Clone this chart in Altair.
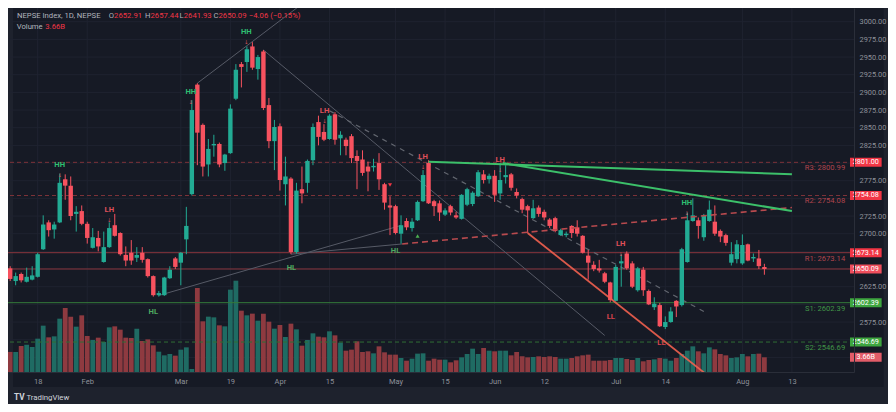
import altair as alt
import pandas as pd

# ---------------- data ----------------
opens = [2651, 2633, 2643, 2632, 2635, 2639, 2678, 2716, 2706, 2716,
         2777, 2768, 2728, 2732, 2714, 2680, 2694, 2660, 2681, 2712,
         2701, 2670, 2673, 2666, 2673, 2664, 2640, 2613, 2613, 2637,
         2665, 2659, 2692, 2756, 2911, 2854, 2798, 2825, 2827, 2800,
         2814, 2891, 2940, 2943, 2965, 2933, 2958, 2882, 2831, 2852,
         2770, 2778, 2674, 2763, 2772, 2804, 2858, 2844, 2834, 2869,
         2835, 2833, 2838, 2810, 2805, 2795, 2794, 2800, 2770, 2740,
         2739, 2700, 2718, 2708, 2719, 2746, 2800, 2746, 2743, 2727,
         2739, 2726, 2721, 2741, 2742, 2753, 2784, 2777, 2782, 2757,
         2780, 2784, 2759, 2749, 2739, 2722, 2737, 2731, 2720, 2722,
         2698, 2698, 2711, 2709, 2697, 2669, 2656, 2651, 2644, 2631,
         2605, 2658, 2672, 2658, 2620, 2649, 2619, 2596, 2599, 2568,
         2575, 2605, 2599, 2660, 2718, 2719, 2695, 2718, 2717, 2704,
         2698, 2659, 2664, 2658, 2685, 2665, 2665, 2652.91]
highs = [2654, 2645, 2645, 2652, 2654, 2673, 2726, 2719, 2717, 2785,
         2784, 2781, 2739, 2740, 2717, 2708, 2704, 2703, 2716, 2728,
         2702, 2682, 2691, 2681, 2681, 2665, 2641, 2619, 2639, 2654,
         2667, 2674, 2738, 2889, 2913, 2856, 2834, 2840, 2829, 2813,
         2883, 2940, 2943, 2965, 2971, 2953, 2960, 2892, 2861, 2856,
         2809, 2780, 2772, 2795, 2805, 2856, 2867, 2855, 2869, 2872,
         2845, 2836, 2841, 2818, 2818, 2802, 2806, 2814, 2772, 2753,
         2741, 2726, 2722, 2722, 2747, 2790, 2804, 2748, 2747, 2736,
         2741, 2731, 2756, 2765, 2760, 2790, 2790, 2785, 2790, 2800,
         2797, 2786, 2764, 2751, 2741, 2748, 2740, 2734, 2722, 2724,
         2707, 2703, 2712, 2719, 2698, 2677, 2661, 2663, 2646, 2632,
         2656, 2671, 2675, 2661, 2653, 2653, 2621, 2610, 2602, 2583,
         2596, 2606, 2680, 2730, 2750, 2723, 2728, 2747, 2740, 2706,
         2700, 2688, 2691, 2699, 2686, 2672, 2677, 2657.44]
lows = [2633, 2627, 2631, 2631, 2634, 2638, 2677, 2696, 2693, 2715,
        2748, 2719, 2703, 2712, 2686, 2679, 2675, 2659, 2680, 2696,
        2669, 2654, 2656, 2660, 2659, 2638, 2611, 2611, 2612, 2636,
        2650, 2627, 2671, 2754, 2797, 2781, 2781, 2809, 2794, 2789,
        2813, 2889, 2907, 2929, 2932, 2918, 2875, 2821, 2790, 2761,
        2740, 2671, 2672, 2743, 2758, 2797, 2825, 2831, 2833, 2826,
        2811, 2811, 2800, 2763, 2782, 2760, 2788, 2762, 2734, 2698,
        2699, 2686, 2705, 2703, 2718, 2745, 2742, 2725, 2718, 2725,
        2726, 2721, 2720, 2739, 2739, 2752, 2771, 2771, 2745, 2748,
        2771, 2761, 2750, 2729, 2701, 2721, 2724, 2719, 2708, 2702,
        2697, 2695, 2694, 2696, 2672, 2635, 2647, 2645, 2630, 2603,
        2604, 2625, 2649, 2623, 2618, 2612, 2599, 2592, 2568, 2565,
        2574, 2582, 2597, 2659, 2717, 2693, 2690, 2717, 2697, 2688,
        2683, 2655, 2658, 2656, 2661, 2660, 2650, 2641.93]
closes = [2636, 2640, 2634, 2639, 2641, 2671, 2713, 2705, 2713, 2772,
          2768, 2725, 2731, 2714, 2694, 2695, 2682, 2681, 2708, 2697,
          2671, 2662, 2662, 2670, 2663, 2640, 2613, 2616, 2638, 2649,
          2653, 2673, 2711, 2875, 2843, 2795, 2820, 2827, 2798, 2812,
          2877, 2932, 2936, 2961, 2935, 2950, 2878, 2831, 2851, 2776,
          2781, 2674, 2761, 2757, 2803, 2851, 2837, 2833, 2867, 2833,
          2840, 2824, 2807, 2803, 2786, 2788, 2796, 2777, 2744, 2737,
          2701, 2712, 2709, 2717, 2745, 2783, 2743, 2739, 2730, 2733,
          2730, 2723, 2755, 2763, 2758, 2787, 2776, 2782, 2755, 2776,
          2783, 2765, 2754, 2734, 2733, 2736, 2728, 2723, 2711, 2704,
          2705, 2700, 2701, 2700, 2673, 2659, 2650, 2648, 2632, 2606,
          2653, 2661, 2651, 2625, 2651, 2620, 2600, 2601, 2569, 2575,
          2590, 2597, 2678, 2719, 2726, 2711, 2726, 2734, 2700, 2696,
          2687, 2671, 2685, 2684, 2662, 2667, 2654.15, 2650.09]
volumes = [5.0, 4.98, 6.47, 6.81, 6.23, 8.30, 11.54, 8.63, 8.88, 13.28,
           15.94, 13.78, 11.29, 14.11, 8.96, 7.97, 8.55, 7.47, 11.12, 11.37,
           10.54, 8.55, 8.47, 10.79, 7.72, 8.13, 6.64, 5.06, 4.15, 4.48,
           4.07, 5.56, 6.14, 0.75, 20.92, 12.62, 13.78, 13.61, 11.62, 11.37,
           20.50, 22.74, 15.27, 14.11, 14.53, 12.78, 14.53, 12.53, 10.79, 11.70,
           8.72, 12.04, 10.62, 6.56, 7.97, 9.63, 8.80, 8.63, 10.13, 9.13,
           7.30, 5.31, 5.56, 7.64, 4.98, 5.15, 4.65, 6.39, 4.90, 4.32,
           4.32, 3.49, 2.82, 3.32, 4.57, 4.65, 2.82, 3.32, 3.07, 3.07,
           2.41, 2.91, 3.65, 4.48, 5.81, 4.48, 5.98, 5.31, 5.15, 5.31,
           5.31, 4.15, 4.98, 3.90, 3.65, 3.74, 3.90, 3.74, 3.90, 3.74,
           3.32, 3.32, 3.49, 3.90, 4.15, 4.32, 2.82, 2.82, 2.82, 2.99,
           3.49, 3.49, 3.24, 2.99, 3.49, 2.66, 2.99, 3.15, 3.49, 3.32,
           2.82, 3.49, 4.48, 5.31, 6.39, 5.15, 4.65, 6.14, 5.64, 4.48,
           4.15, 3.49, 3.65, 4.48, 3.90, 4.48, 4.57, 3.66]   # billions

tick_idx = [5, 14, 31, 40, 49, 58, 70, 79, 88, 97, 110, 119, 133, 142]
tick_lab = ["18", "Feb", "Mar", "19", "Apr", "15", "May", "15", "Jun", "12",
            "Jul", "14", "Aug", "13"]
price_ticks = [2575, 2625, 2700, 2725, 2775, 2825, 2850, 2875, 2900, 2925,
               2950, 2975, 3000]
grid_prices = list(range(2525, 3001, 25))

level_names = ["R3", "R2", "R1", "S1", "S2"]
level_vals = [2800.99, 2754.08, 2673.14, 2602.39, 2546.69]
box_vals = [2800.99, 2754.08, 2673.14, 2650.09, 2602.39, 2546.69]
box_text = ["2801.00", "2754.08", "2673.14", "2650.09", "2602.39", "2546.69"]
box_kind = ["res", "res", "res", "last", "sup", "sup"]

# pivot labels (bar index, price)
piv_lab = ["HH", "LH", "HL", "HH", "HH", "HL", "LH", "HL", "LH", "LH", "LH", "LL", "LL", "HH"]
piv_x = [9, 18, 26, 32.8, 42.9, 51.1, 57.1, 70, 75, 89, 110.9, 109.1, 118.3, 122.9]
piv_y = [2797, 2733.5, 2589, 2900.5, 2985.4, 2651.5, 2873.5, 2675.5, 2808.6, 2804.3,
         2685.4, 2582, 2545.4, 2743.5]

# drawn trend lines: (x1, y1, x2, y2) in bar index / price
gray_lines = [(34, 2913, 53, 3025), (46, 2960, 108, 2556),
              (27, 2612.6, 71, 2711.7), (51, 2671, 71.2, 2685.5)]
gray_dashed = [(58, 2874, 126, 2590)]
red_dashed = [(71.2, 2685.5, 142, 2737)]
green_lines = [(76, 2802, 142, 2784), (89.5, 2800, 142, 2732)]
orange_lines = [(94, 2701, 126.6, 2500)]
tri_down = [(69, 2769)]
tri_up = [(74, 2696.7)]

# ---------------- styling ----------------
FONT = "Roboto"
OUTER = "#1e222d"
PANEL = "#161a25"
GRID = "#1f2330"
AXC = "#2a2e39"
TXT = "#8e919a"
UP, DOWN = "#22ab94", "#f7525f"
VOL_UP, VOL_DOWN = "#1f6b63", "#8e3a40"

X_MIN, X_MAX = 0.515, 152.37
Y_MIN, Y_MAX = 2504.3, 3019.4
V_MAX = 90.64
PANEL_X2 = 158.66
PANEL_Y1 = 2483.1

XS = alt.Scale(domain=[X_MIN, X_MAX], nice=False, zero=False)
YS = alt.Scale(domain=[Y_MIN, Y_MAX], nice=False, zero=False)
VS = alt.Scale(domain=[0, V_MAX], nice=False, zero=True)

label_expr = " : ".join(f"datum.value == {i} ? '{l}'" for i, l in zip(tick_idx, tick_lab)) + " : ''"
XAXIS = alt.Axis(values=tick_idx, labelExpr=label_expr, grid=False, ticks=False,
                 domainColor=AXC, labelColor=TXT, labelFont=FONT, labelFontSize=7.5,
                 labelPadding=5, title=None, zindex=1, labelFlush=False, labelOverlap=False)
YAXIS = alt.Axis(orient="right", values=price_ticks, format=".2f", grid=False, ticks=False,
                 domainColor=AXC, labelColor=TXT, labelFont=FONT, labelFontSize=7.4,
                 labelPadding=5, title=None, zindex=1, labelFlush=False)


def X(f):
    return alt.X(f, type="quantitative", scale=XS, axis=XAXIS)


def Y(f):
    return alt.Y(f, type="quantitative", scale=YS, axis=YAXIS)


def cmap(field, domain, rng):
    return alt.Color(field, type="nominal", scale=alt.Scale(domain=domain, range=rng), legend=None)


n = len(opens)
df = pd.DataFrame({"i": list(range(n)), "o": opens, "h": highs, "l": lows,
                   "c": closes, "v": volumes})
df["dir"] = ["up" if c >= o else "down" for o, c in zip(opens, closes)]

# ---------------- background group ----------------
panel = alt.Chart(pd.DataFrame({"x": [X_MIN], "x2": [PANEL_X2], "y": [PANEL_Y1], "y2": [Y_MAX]})).mark_rect(
    color=PANEL, clip=False).encode(x=X("x"), x2="x2", y=alt.Y("y:Q", scale=YS, axis=None), y2="y2")
hgrid = alt.Chart(pd.DataFrame({"p": grid_prices})).mark_rule(color=GRID, strokeWidth=1).encode(
    y=alt.Y("p:Q", scale=YS, axis=None))
vgrid = alt.Chart(pd.DataFrame({"i": tick_idx})).mark_rule(color=GRID, strokeWidth=1).encode(x=X("i"))
bg_group = alt.layer(panel, hgrid, vgrid)

# ---------------- volume group ----------------
volbars = alt.Chart(df).mark_bar(size=4.8, clip=True).encode(
    x=X("i"), y=alt.Y("v:Q", scale=VS, axis=None),
    color=cmap("dir", ["up", "down"], [VOL_UP, VOL_DOWN]))
vbox_df = pd.DataFrame({"x": [X_MAX + 0.18], "x2": [X_MAX + 5.93], "xc": [X_MAX + 3.05],
                        "v": [volumes[-1]], "v1": [volumes[-1] - 1.12], "v2": [volumes[-1] + 1.12],
                        "t": [f"{volumes[-1]:.2f}B"]})
vbox = alt.Chart(vbox_df).mark_rect(color="#e25c68", clip=False).encode(
    x=X("x"), x2="x2", y=alt.Y("v1:Q", scale=VS, axis=None), y2="v2")
vbox_t = alt.Chart(vbox_df).mark_text(color="white", font=FONT, fontSize=7.2, clip=False).encode(
    x=X("xc"), y=alt.Y("v:Q", scale=VS, axis=None), text="t:N")
vol_group = alt.layer(volbars, vbox, vbox_t)


# ---------------- main group ----------------
def hlines(vals, color, dash=None, width=1):
    kw = dict(color=color, strokeWidth=width)
    if dash:
        kw["strokeDash"] = dash
    return alt.Chart(pd.DataFrame({"p": vals})).mark_rule(**kw).encode(y=Y("p"))


lv = dict(zip(level_names, level_vals))
lvl_r_dash = hlines([lv["R3"], lv["R2"]], "#7d3339", [4, 3])
lvl_r = hlines([lv["R1"], closes[-1]], "#8b363d")
lvl_s = hlines([lv["S1"]], "#357a3a")
lvl_s_dash = hlines([lv["S2"]], "#2f6e35", [4, 3])


def segs(lines, color, width=1.0, dash=None, opacity=1.0):
    d = pd.DataFrame(lines, columns=["x", "y", "x2", "y2"])
    kw = dict(color=color, strokeWidth=width, clip=True, opacity=opacity)
    if dash:
        kw["strokeDash"] = dash
    return alt.Chart(d).mark_rule(**kw).encode(x=X("x"), y=Y("y"), x2="x2", y2="y2")


gray_l = segs(gray_lines, "#565a66", 1.0)
gray_d = segs(gray_dashed, "#62666f", 1.2, [5, 5])
red_d = segs(red_dashed, "#b84a4e", 1.6, [6, 4])
green_l = segs(green_lines, "#3cc06a", 2.0)
orange_l = segs(orange_lines, "#f2604f", 1.8, opacity=0.9)

wicks = alt.Chart(df).mark_rule(strokeWidth=1, clip=True).encode(
    x=X("i"), y=Y("l"), y2="h", color=cmap("dir", ["up", "down"], [UP, DOWN]))
bodies = alt.Chart(df).mark_bar(size=4.4, clip=True).encode(
    x=X("i"), y=Y("o"), y2="c", color=cmap("dir", ["up", "down"], [UP, DOWN]))

piv_df = pd.DataFrame({"lab": piv_lab, "x": piv_x, "y": piv_y})
piv = alt.Chart(piv_df).mark_text(font=FONT, fontSize=7.6, fontWeight="bold").encode(
    x=X("x"), y=Y("y"), text="lab:N",
    color=cmap("lab", ["HH", "HL", "LH", "LL"], ["#2fbf71", "#4ea860", "#e0505a", "#d8434d"]))
arrows = alt.Chart(piv_df).transform_filter("datum.lab == 'HH' || datum.lab == 'LH'").mark_text(
    font="DejaVu Sans", fontSize=5.5, dy=10, color="#d4545c", text="↓").encode(x=X("x"), y=Y("y"))

tri_d = alt.Chart(pd.DataFrame(tri_down, columns=["x", "y"])).mark_point(
    shape="triangle-down", filled=True, size=16, color="#f23645", opacity=1).encode(x=X("x"), y=Y("y"))
tri_u = alt.Chart(pd.DataFrame(tri_up, columns=["x", "y"])).mark_point(
    shape="triangle-up", filled=True, size=16, color="#4caf50", opacity=1).encode(x=X("x"), y=Y("y"))

lvl_df = pd.DataFrame({"p": level_vals, "t": [f"{k}: {v:.2f}" for k, v in zip(level_names, level_vals)],
                       "k": ["res" if k.startswith("R") else "sup" for k in level_names]})
lvl_df["x"] = X_MAX - 0.7
lvl_text = alt.Chart(lvl_df).mark_text(font=FONT, fontSize=7.6, align="right", dy=6).encode(
    x=X("x"), y=Y("p"), text="t:N", color=cmap("k", ["res", "sup"], ["#b0454d", "#419447"]))

box_df = pd.DataFrame({"p": box_vals, "t": box_text, "k": box_kind})
box_df["p1"] = box_df["p"] - 6.4
box_df["p2"] = box_df["p"] + 6.4
box_df["x"] = X_MAX + 0.18
box_df["x2"] = X_MAX + 5.93
box_df["xc"] = X_MAX + 3.05
boxes = alt.Chart(box_df).mark_rect(clip=False).encode(
    x=X("x"), x2="x2", y=Y("p1"), y2="p2",
    color=cmap("k", ["res", "last", "sup"], ["#f23645", "#ef4e5c", "#3ea63f"]))
box_t = alt.Chart(box_df).mark_text(font=FONT, fontSize=7.2, color="white", clip=False).encode(
    x=X("xc"), y=Y("p"), text="t:N")

# header legend: letters right-aligned, values left-aligned at the same anchor
chg = closes[-1] - closes[-2]
pct = chg / closes[-2] * 100
minus = lambda s: s.replace("-", "\u2212")
row1, row2 = 3008.1, 2992.9
anchors = [18.88, 25.5, 31.53, 37.85]
hdr_vals = pd.DataFrame({
    "t": ["NEPSE Index, 1D, NEPSE", f"{opens[-1]:.2f}", f"{highs[-1]:.2f}", f"{lows[-1]:.2f}",
          f"{closes[-1]:.2f}", minus(f"{chg:.2f} ({pct:.2f}%)"), "Volume", f"{volumes[-1]:.2f}B"],
    "x": [1.23] + anchors + [43.36, 1.18, 6.38],
    "y": [row1] * 6 + [row2, row2],
    "k": ["g", "r", "r", "r", "r", "r", "g", "r"],
})
header = alt.Chart(hdr_vals).mark_text(font=FONT, fontSize=7.7, align="left", baseline="middle").encode(
    x=X("x"), y=Y("y"), text="t:N", color=cmap("k", ["g", "r"], ["#b2b5be", "#f23645"]))
hdr_letters = pd.DataFrame({"t": ["O", "H", "L", "C"], "x": anchors, "y": [row1] * 4})
header_l = alt.Chart(hdr_letters).mark_text(font=FONT, fontSize=7.7, align="right", baseline="middle",
                                            color="#b2b5be").encode(x=X("x"), y=Y("y"), text="t:N")

# TradingView attribution, in the strip below the panel
logo_df = pd.DataFrame({"t": ["TV", "TradingView"], "x": [0.7, 2.95], "y": [2467.5, 2467.5]})
logo1 = alt.Chart(logo_df.iloc[[0]]).mark_text(font=FONT, fontSize=8.2, fontWeight="bold", align="left",
                                               baseline="middle", color="#d1d4dc",
                                               clip=False).encode(x=X("x"), y=Y("y"), text="t:N")
logo2 = alt.Chart(logo_df.iloc[[1]]).mark_text(font=FONT, fontSize=7.8, align="left", baseline="middle",
                                               color="#d1d4dc", clip=False).encode(x=X("x"), y=Y("y"), text="t:N")

main_group = alt.layer(lvl_r_dash, lvl_r, lvl_s, lvl_s_dash, gray_l, gray_d,
                       wicks, bodies, red_d, green_l, orange_l,
                       piv, arrows, tri_d, tri_u, lvl_text, boxes, box_t,
                       header, header_l, logo1, logo2).resolve_scale(color="independent")

chart = alt.layer(bg_group, vol_group, main_group).resolve_scale(
    y="independent", color="independent").properties(
    width=846, height=364,
    padding={"left": 0, "top": 0, "right": 34, "bottom": 32},
    autosize=alt.AutoSizeParams(type="none"),
    background=OUTER,
    usermeta={"embedOptions": {"defaultStyle": "body{background:#1e222d}"}},
).configure_view(strokeWidth=0)

chart.save("out.html", embed_options={"renderer": "svg", "actions": False})
